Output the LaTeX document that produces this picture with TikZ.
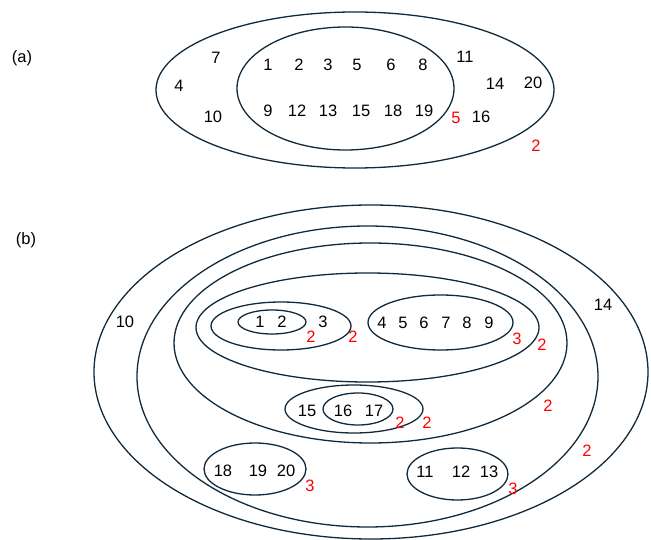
\documentclass[tikz,border=0pt]{standalone}
\usepackage{fontspec}
\setmainfont{Liberation Sans}
\definecolor{ringline}{HTML}{102A3C}
\definecolor{countred}{HTML}{FF0000}

\begin{document}
\begin{tikzpicture}[x=1pt,y=-1pt,
    num/.style={font=\fontsize{16.5}{16.5}\selectfont, inner sep=0pt},
    cnt/.style={num, text=countred},
    ring/.style={draw=ringline, line width=1.3pt}]
        \useasboundingbox (0,0) rectangle (651,540);

        \node[num] (la) at (22,58) {(a)};
        \node[num] (lb) at (26,240) {(b)};

        \draw[ring] (355,90) ellipse [x radius=199, y radius=78];
        \draw[ring] (345.5,88.5) ellipse [x radius=108.5, y radius=61.5];

        \node[num] (a7) at (216,58) {7};
        \node[num] (a4) at (179,86) {4};
        \node[num] (a10) at (213,117) {10};
        \node[num] (a1) at (268,65) {1};
        \node[num] (a2) at (299,65) {2};
        \node[num] (a3) at (328,65) {3};
        \node[num] (a5) at (357,65) {5};
        \node[num] (a6) at (391,65) {6};
        \node[num] (a8) at (423,65) {8};
        \node[num] (a9) at (268,111) {9};
        \node[num] (a12) at (297,111) {12};
        \node[num] (a13) at (328,111) {13};
        \node[num] (a15) at (361,111) {15};
        \node[num] (a18) at (393,111) {18};
        \node[num] (a19) at (424,111) {19};
        \node[num] (a11) at (465,57) {11};
        \node[num] (a14) at (495,84) {14};
        \node[num] (a20) at (533,83) {20};
        \node[num] (a16) at (481,117) {16};
        \node[cnt] (ain) at (456,118) {5};
        \node[cnt] (aout) at (536,146) {2};

        \draw[ring] (371,372) ellipse [x radius=277, y radius=167];
        \draw[ring] (367.5,376.5) ellipse [x radius=230.5, y radius=150.5];
        \draw[ring] (370.5,343) ellipse [x radius=196.5, y radius=100];
        \draw[ring] (367.5,327.5) ellipse [x radius=171.5, y radius=54.5];
        \draw[ring] (281,326) ellipse [x radius=70, y radius=24];
        \draw[ring] (272,322) ellipse [x radius=34, y radius=12];
        \draw[ring] (440.5,322.5) ellipse [x radius=72.5, y radius=27.5];
        \draw[ring] (354,409) ellipse [x radius=69, y radius=24];
        \draw[ring] (358,409) ellipse [x radius=35, y radius=16];
        \draw[ring] (255,469) ellipse [x radius=51, y radius=26];
        \draw[ring] (457.5,474) ellipse [x radius=50.5, y radius=26];

        \node[num] (b10) at (125,322) {10};
        \node[num] (b14) at (603,305) {14};
        \node[num] (b1) at (260,322) {1};
        \node[num] (b2) at (282,322) {2};
        \node[num] (b3) at (323,322) {3};
        \node[cnt] (c12) at (311,337) {2};
        \node[cnt] (c123) at (353,337) {2};
        \node[num] (b4) at (382,323) {4};
        \node[num] (b5) at (403,323) {5};
        \node[num] (b6) at (424,323) {6};
        \node[num] (b7) at (446,323) {7};
        \node[num] (b8) at (467,323) {8};
        \node[num] (b9) at (489,323) {9};
        \node[cnt] (c49) at (517,339) {3};
        \node[cnt] (c19) at (542,345) {2};
        \node[num] (b15) at (307,411) {15};
        \node[num] (b16) at (343,411) {16};
        \node[num] (b17) at (374,411) {17};
        \node[cnt] (c1617) at (400,423) {2};
        \node[cnt] (c1517) at (427,423) {2};
        \node[cnt] (c117) at (548,406) {2};
        \node[cnt] (c113) at (587,451) {2};
        \node[num] (b18) at (223,471) {18};
        \node[num] (b19) at (258,471) {19};
        \node[num] (b20) at (286,471) {20};
        \node[cnt] (c1820) at (310,486) {3};
        \node[num] (b11) at (425,472) {11};
        \node[num] (b12) at (461,472) {12};
        \node[num] (b13) at (489,472) {13};
        \node[cnt] (c1113) at (513,489) {3};
    \end{tikzpicture}
\end{document}
